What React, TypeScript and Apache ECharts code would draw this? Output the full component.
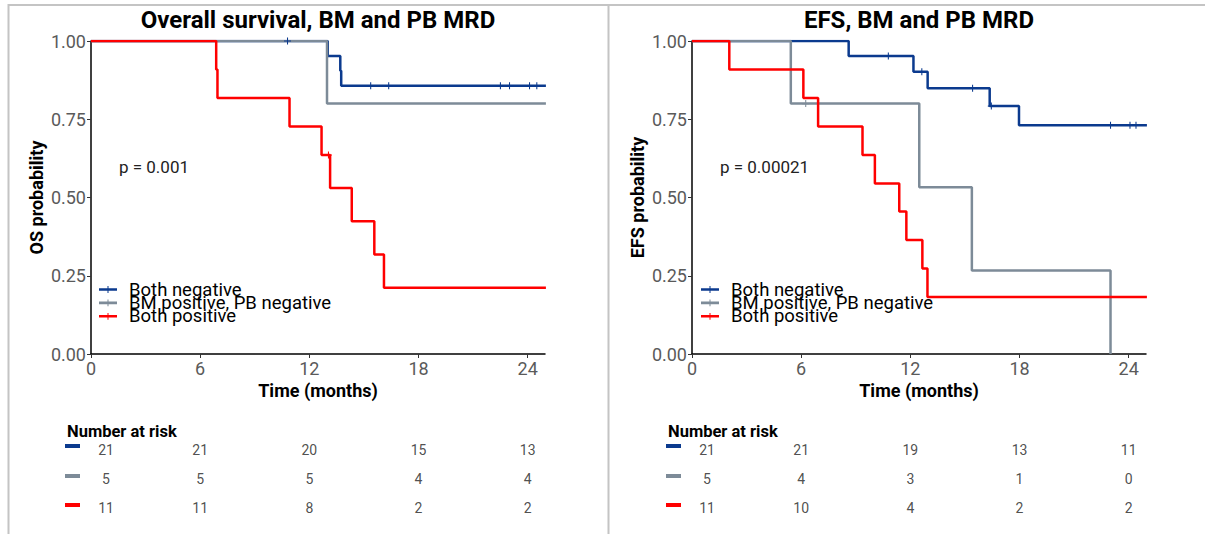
import React, { useEffect, useRef } from "react";
import * as echarts from "echarts";

// ---------- data ----------
const groups = ["Both negative", "BM positive, PB negative", "Both positive"];
const groupColors = ["#0B3A8E", "#7D8B98", "#FF0000"];

const xTickValues = [0, 6, 12, 18, 24];
const xMax = 24.95;

// Overall survival
const osNegTime = [0, 13.01, 13.7, 13.75, 25];
const osNegSurv = [1, 0.952, 0.905, 0.857, 0.857];
const osNegCensTime = [10.8, 15.37, 16.36, 22.5, 23.0, 24.1, 24.5];
const osNegCensSurv = [1, 0.857, 0.857, 0.857, 0.857, 0.857, 0.857];

const osBmTime = [0, 12.97, 25];
const osBmSurv = [1, 0.8, 0.8];
const osBmCensTime: number[] = [];
const osBmCensSurv: number[] = [];

const osPosTime = [0, 6.88, 6.95, 10.91, 12.67, 13.14, 14.33, 15.57, 16.1, 25];
const osPosSurv = [1, 0.909, 0.818, 0.727, 0.636, 0.53, 0.424, 0.318, 0.212, 0.212];
const osPosCensTime = [13.05];
const osPosCensSurv = [0.636];

// Event-free survival
const efsNegTime = [0, 8.61, 12.17, 12.95, 16.36, 17.97, 25];
const efsNegSurv = [1, 0.952, 0.902, 0.849, 0.792, 0.731, 0.731];
const efsNegCensTime = [10.79, 12.63, 15.42, 16.45, 23.0, 24.07, 24.4];
const efsNegCensSurv = [0.952, 0.902, 0.849, 0.792, 0.731, 0.731, 0.731];

const efsBmTime = [0, 5.43, 12.49, 15.38, 23.0];
const efsBmSurv = [1, 0.8, 0.533, 0.267, 0];
const efsBmCensTime = [6.25];
const efsBmCensSurv = [0.8];

const efsPosTime = [0, 2.05, 6.12, 6.93, 9.37, 10.05, 11.39, 11.78, 12.66, 12.94, 25];
const efsPosSurv = [1, 0.909, 0.818, 0.727, 0.636, 0.545, 0.455, 0.364, 0.273, 0.182, 0.182];
const efsPosCensTime: number[] = [];
const efsPosCensSurv: number[] = [];

// Number at risk
const riskTimes = [0, 6, 12, 18, 24];
const osRiskNeg = [21, 21, 20, 15, 13];
const osRiskBm = [5, 5, 5, 4, 4];
const osRiskPos = [11, 11, 8, 2, 2];
const efsRiskNeg = [21, 21, 19, 13, 11];
const efsRiskBm = [5, 4, 3, 1, 0];
const efsRiskPos = [11, 10, 4, 2, 2];

const titles = ["Overall survival, BM and PB MRD", "EFS, BM and PB MRD"];
const yNames = ["OS probability", "EFS probability"];
const pValues = ["p = 0.001", "p = 0.00021"];

// ---------- layout ----------
const FONT = "Roboto";
const panelLeft = [91, 692];
const plotW = 454;
const plotTop = 41;
const plotH = 313;

const plusSymbol =
  "path://M-0.6,-4H0.6V-0.6H4V0.6H0.6V4H-0.6V0.6H-4V-0.6H-0.6Z";
const legendIcon =
  "path://M0,3.7H18V6.3H0Z M8.5,1.6H9.5V8.4H8.5Z";

function zip(a: number[], b: number[]) {
  return a.map((v, i) => [v, b[i]]);
}

export default function App() {
  const ref = useRef<HTMLDivElement>(null);

  useEffect(() => {
    if (!ref.current) return;
    const chart = echarts.init(ref.current, undefined, { renderer: "svg" });

    const curves = [
      [
        [osNegTime, osNegSurv, osNegCensTime, osNegCensSurv],
        [osBmTime, osBmSurv, osBmCensTime, osBmCensSurv],
        [osPosTime, osPosSurv, osPosCensTime, osPosCensSurv],
      ],
      [
        [efsNegTime, efsNegSurv, efsNegCensTime, efsNegCensSurv],
        [efsBmTime, efsBmSurv, efsBmCensTime, efsBmCensSurv],
        [efsPosTime, efsPosSurv, efsPosCensTime, efsPosCensSurv],
      ],
    ];
    const risks = [
      [osRiskNeg, osRiskBm, osRiskPos],
      [efsRiskNeg, efsRiskBm, efsRiskPos],
    ];

    const grid: any[] = [];
    const xAxis: any[] = [];
    const yAxis: any[] = [];
    const series: any[] = [];
    const graphic: any[] = [];
    const legend: any[] = [];

    // frame
    graphic.push(
      { type: "line", shape: { x1: 8, y1: 5, x2: 1205, y2: 5 }, style: { stroke: "#C4C4C4", lineWidth: 2 } },
      { type: "line", shape: { x1: 8.5, y1: 4, x2: 8.5, y2: 534 }, style: { stroke: "#C4C4C4", lineWidth: 2 } },
      { type: "line", shape: { x1: 608.5, y1: 4, x2: 608.5, y2: 534 }, style: { stroke: "#C4C4C4", lineWidth: 2 } }
    );

    for (let p = 0; p < 2; p++) {
      const left = panelLeft[p];
      grid.push({ left, top: plotTop, width: plotW, height: plotH });
      grid.push({ left, top: 435.5, width: plotW, height: 87 });
      const gMain = p * 2;
      const gRisk = p * 2 + 1;

      xAxis.push({
        gridIndex: gMain,
        type: "value",
        min: 0,
        max: xMax,
        interval: 6,
        axisLine: { show: true, onZero: false, lineStyle: { color: "#000", width: 1.5 } },
        axisTick: { show: true, length: 4, customValues: xTickValues, lineStyle: { color: "#333", width: 1 } },
        axisLabel: {
          customValues: xTickValues,
          fontSize: 18,
          color: "#5a5a5a",
          margin: 5,
          fontFamily: FONT,
          formatter: (v: number) => (Math.abs(v % 6) < 1e-6 ? String(v) : ""),
        },
        splitLine: { show: false },
        name: "Time (months)",
        nameLocation: "middle",
        nameGap: 23,
        nameTextStyle: { fontWeight: "bold", fontSize: 18, color: "#000", fontFamily: FONT },
      });
      yAxis.push({
        gridIndex: gMain,
        type: "value",
        min: 0,
        max: 1,
        interval: 0.25,
        axisLine: { show: true, onZero: false, lineStyle: { color: "#000", width: 1.5 } },
        axisTick: { show: true, length: 4, lineStyle: { color: "#333", width: 1 } },
        axisLabel: {
          fontSize: 18,
          color: "#5a5a5a",
          margin: 5,
          fontFamily: FONT,
          formatter: (v: number) => v.toFixed(2),
        },
        splitLine: { show: false },
        name: yNames[p],
        nameLocation: "middle",
        nameRotate: 90,
        nameGap: 46,
        nameTextStyle: { fontWeight: "bold", fontSize: 18, color: "#000", fontFamily: FONT },
      });
      xAxis.push({ gridIndex: gRisk, type: "value", min: 0, max: xMax, show: false });
      yAxis.push({ gridIndex: gRisk, type: "value", min: -0.5, max: 2.5, inverse: true, show: false });

      const xi = p * 2;
      const yi = p * 2;
      for (let g = 0; g < 3; g++) {
        const [t, s] = curves[p][g];
        series.push({
          type: "line",
          name: groups[g],
          xAxisIndex: xi,
          yAxisIndex: yi,
          data: zip(t, s),
          step: "end",
          symbol: "none",
          lineStyle: { color: groupColors[g], width: 2.5 },
          itemStyle: { color: groupColors[g] },
          silent: true,
          z: 2,
        });
      }
      for (let g = 0; g < 3; g++) {
        const [, , ct, cs] = curves[p][g];
        series.push({
          type: "scatter",
          name: groups[g] + " (censored)",
          xAxisIndex: xi,
          yAxisIndex: yi,
          data: zip(ct, cs),
          symbol: plusSymbol,
          symbolSize: 7,
          itemStyle: { color: groupColors[g], opacity: 1 },
          silent: true,
          z: 3,
        });
      }
      for (let g = 0; g < 3; g++) {
        const counts = risks[p][g];
        series.push({
          type: "scatter",
          name: "risk " + p + "-" + g,
          xAxisIndex: xi + 1,
          yAxisIndex: yi + 1,
          symbolSize: 1,
          itemStyle: { color: "rgba(0,0,0,0)" },
          label: {
            show: true,
            position: "inside",
            fontSize: 14,
            color: "#222",
            fontFamily: FONT,
            formatter: (prm: any) => String(prm.value[2]),
          },
          data: riskTimes.map((rt, i) => ({
            value: [rt, g, counts[i]],
            label: i === 0 ? { offset: [15, 0] } : undefined,
          })),
          silent: true,
        });
      }

      legend.push({
        data: groups.map((name) => ({ name, icon: legendIcon })),
        left: p === 0 ? 99 : 701,
        top: 280,
        padding: 0,
        orient: "vertical",
        itemWidth: 18,
        itemHeight: 10,
        itemGap: -5.6,
        selectedMode: false,
        textStyle: { fontSize: 18.5, color: "#000", fontFamily: FONT, padding: [0, 0, 0, 7] },
      });

      const cx = left + plotW / 2;
      graphic.push(
        {
          type: "text",
          x: cx,
          y: 20,
          style: { text: titles[p], fill: "#000", font: `bold 24px ${FONT}`, textAlign: "center", textVerticalAlign: "middle" },
        },
        {
          type: "text",
          x: left + 28,
          y: 167,
          style: { text: pValues[p], fill: "#222", font: `17px ${FONT}`, textAlign: "left", textVerticalAlign: "middle" },
        },
        {
          type: "text",
          x: left - 24,
          y: 431,
          style: { text: "Number at risk", fill: "#000", font: `bold 16.5px ${FONT}`, textAlign: "left", textVerticalAlign: "middle" },
        }
      );
      const dashY = [446, 476, 505];
      for (let g = 0; g < 3; g++) {
        graphic.push({
          type: "rect",
          shape: { x: left - 26, y: dashY[g] - 2, width: 15, height: 4 },
          style: { fill: groupColors[g] },
        });
      }
    }

    chart.setOption({
      animation: false,
      backgroundColor: "#fff",
      textStyle: { fontFamily: FONT },
      grid,
      xAxis,
      yAxis,
      series,
      legend,
      graphic,
    });

    return () => chart.dispose();
  }, []);

  return (
    <div
      ref={ref}
      style={{ position: "fixed", left: 0, top: 0, width: 1205, height: 534, background: "#fff" }}
    />
  );
}
